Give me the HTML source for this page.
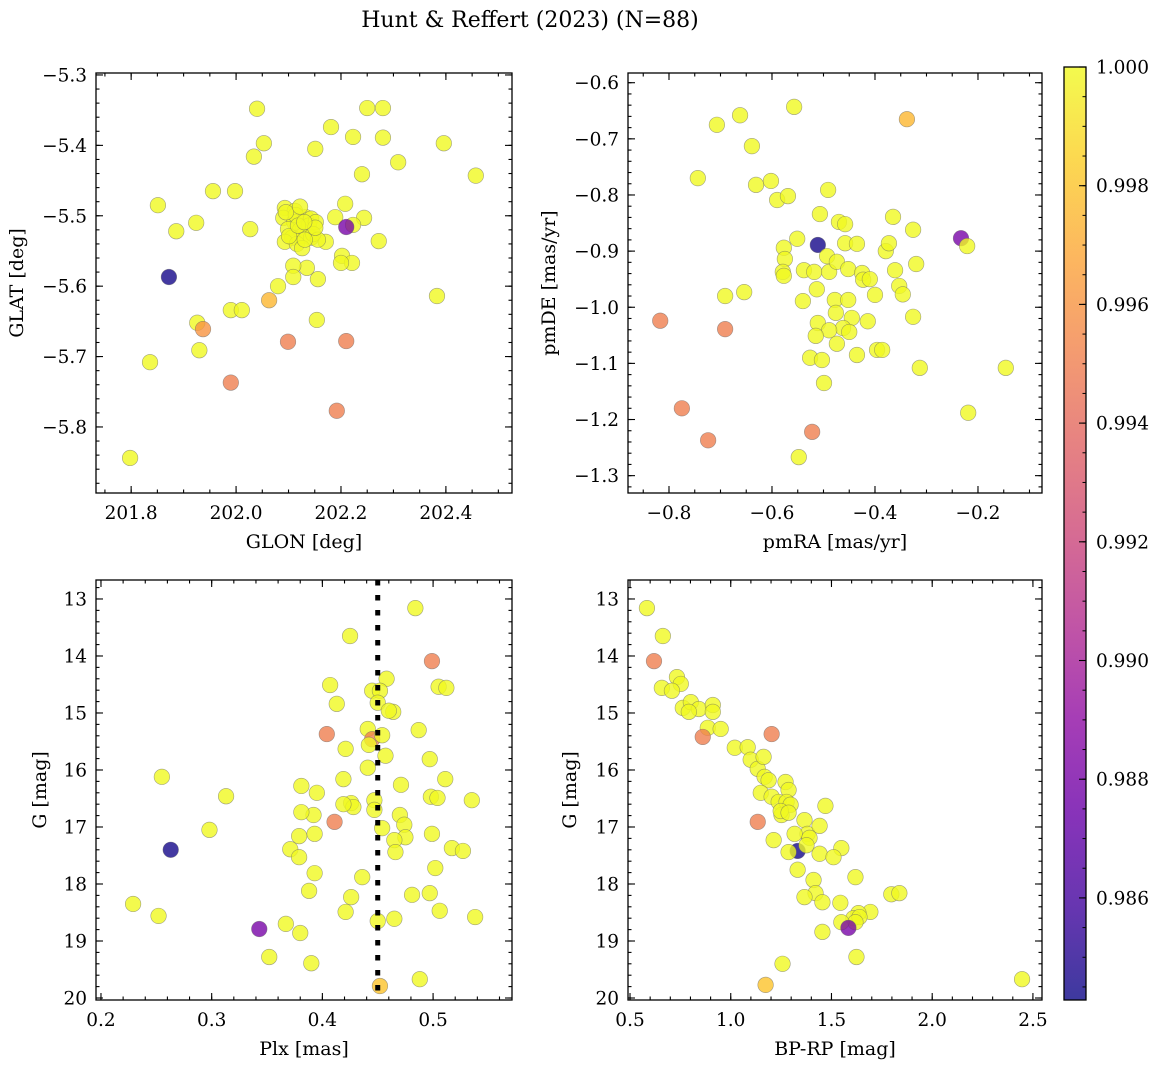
<!DOCTYPE html>
<html><head><meta charset="utf-8">
<style>
html,body{margin:0;padding:0;background:#fff;}
svg{display:block;font-family:"DejaVu Serif","Liberation Serif",serif;}
</style></head>
<body>
<svg id="fig" width="1161" height="1067" viewBox="0 0 1161 1067" xmlns="http://www.w3.org/2000/svg">
<text x="530" y="27" font-size="22" text-anchor="middle">Hunt &amp; Reffert (2023) (N=88)</text>
</svg>
<script>
// ---------- data ----------
const glon = [202.040,202.053,202.034,202.250,202.280,202.280,202.223,202.181,202.151,202.309,202.396,202.457,202.240,201.956,201.998,201.851,201.886,201.924,202.027,202.208,202.189,202.244,202.223,202.210,202.272,202.171,202.202,202.221,202.200,202.156,202.135,202.109,202.109,202.080,202.063,201.990,202.011,201.926,201.937,202.154,202.099,202.210,201.930,201.836,201.990,202.192,201.798,202.383,201.872,
202.093,202.112,202.133,202.090,202.143,202.111,202.099,202.122,202.139,202.152,202.126,202.107,202.143,202.093,202.116,202.126,202.147,202.156,202.114,202.101,202.131,202.118,202.151,202.130,202.095,202.122];
const glat = [-5.348,-5.397,-5.416,-5.347,-5.347,-5.389,-5.388,-5.374,-5.405,-5.424,-5.397,-5.443,-5.441,-5.465,-5.465,-5.485,-5.522,-5.510,-5.519,-5.483,-5.502,-5.503,-5.513,-5.516,-5.536,-5.537,-5.557,-5.567,-5.567,-5.590,-5.574,-5.571,-5.587,-5.600,-5.620,-5.634,-5.634,-5.652,-5.661,-5.648,-5.679,-5.678,-5.691,-5.708,-5.737,-5.777,-5.844,-5.614,-5.587,
-5.489,-5.493,-5.502,-5.503,-5.504,-5.509,-5.519,-5.520,-5.514,-5.509,-5.529,-5.531,-5.531,-5.537,-5.540,-5.546,-5.526,-5.534,-5.499,-5.529,-5.534,-5.514,-5.517,-5.509,-5.495,-5.487];
const prob1 = [1,1,1,1,1,1,1,1,1,1,1,1,1,1,1,1,1,1,1,1,1,1,1,0.988,1,1,1,1,1,1,1,1,1,1,0.9975,1,1,1,0.996,1,0.995,0.995,1,1,0.995,0.995,1,1,0.9845,
1,1,1,1,1,1,1,1,1,1,1,1,1,1,1,1,1,1,1,1,1,1,1,1,1,1];

const pmra = [-0.707,-0.662,-0.557,-0.338,-0.639,-0.744,-0.631,-0.602,-0.590,-0.569,-0.491,-0.654,-0.691,-0.817,-0.691,-0.775,-0.724,-0.522,-0.548,-0.507,-0.511,-0.577,-0.575,-0.579,-0.551,-0.538,-0.577,-0.518,-0.489,-0.493,-0.470,-0.458,-0.458,-0.435,-0.474,-0.452,-0.425,-0.423,-0.379,-0.373,-0.365,-0.326,-0.320,-0.361,-0.353,-0.346,-0.400,-0.410,-0.540,-0.513,-0.478,-0.452,-0.476,-0.445,-0.462,-0.511,-0.489,-0.474,-0.515,-0.450,-0.414,-0.396,-0.386,-0.435,-0.526,-0.503,-0.499,-0.326,-0.313,-0.146,-0.219,-0.233,-0.221];
const pmde = [-0.675,-0.658,-0.643,-0.665,-0.713,-0.770,-0.782,-0.775,-0.809,-0.802,-0.791,-0.973,-0.980,-1.024,-1.039,-1.180,-1.237,-1.222,-1.267,-0.834,-0.889,-0.894,-0.914,-0.937,-0.878,-0.934,-0.944,-0.937,-0.937,-0.909,-0.848,-0.852,-0.886,-0.887,-0.919,-0.932,-0.939,-0.951,-0.900,-0.886,-0.839,-0.862,-0.923,-0.934,-0.962,-0.977,-0.978,-0.950,-0.989,-0.968,-0.987,-0.987,-1.010,-1.019,-1.037,-1.028,-1.041,-1.065,-1.051,-1.044,-1.025,-1.076,-1.076,-1.085,-1.090,-1.094,-1.135,-1.017,-1.108,-1.108,-1.188,-0.877,-0.891];
const prob2 = [1,1,1,0.9975,1,1,1,1,1,1,1,1,1,0.995,0.995,0.995,0.995,0.995,1,1,0.9845,1,1,1,1,1,1,1,1,1,1,1,1,1,1,1,1,1,1,1,1,1,1,1,1,1,1,1,1,1,1,1,1,1,1,1,1,1,1,1,1,1,1,1,1,1,1,1,1,1,1,0.988,1];

const plx = [0.484,0.425,0.499,0.407,0.458,0.505,0.512,0.445,0.452,0.413,0.450,0.464,0.460,0.487,0.441,0.404,0.445,0.442,0.454,0.421,0.457,0.497,0.441,0.255,0.419,0.511,0.381,0.471,0.395,0.498,0.504,0.535,0.313,0.447,0.426,0.428,0.419,0.447,0.470,0.411,0.392,0.474,0.475,0.381,0.499,0.454,0.465,0.393,0.379,0.298,0.263,0.466,0.517,0.527,0.371,0.379,0.502,0.393,0.436,0.497,0.481,0.388,0.426,0.229,0.421,0.506,0.538,0.252,0.465,0.450,0.367,0.343,0.380,0.352,0.390,0.488,0.452];
const gmag3 = [13.16,13.65,14.09,14.51,14.40,14.54,14.56,14.61,14.61,14.84,14.82,14.98,14.96,15.30,15.28,15.37,15.46,15.56,15.39,15.63,15.75,15.81,15.96,16.12,16.16,16.16,16.28,16.26,16.40,16.47,16.49,16.53,16.46,16.53,16.58,16.65,16.60,16.70,16.79,16.91,16.79,16.96,17.18,16.74,17.12,17.02,17.23,17.12,17.16,17.05,17.40,17.44,17.37,17.42,17.39,17.53,17.72,17.81,17.88,18.16,18.19,18.12,18.23,18.35,18.49,18.47,18.58,18.56,18.61,18.65,18.70,18.79,18.86,19.28,19.39,19.67,19.79];
const prob3 = [1,1,0.995,1,1,1,1,1,1,1,1,1,1,1,1,0.995,0.995,1,1,1,1,1,1,1,1,1,1,1,1,1,1,1,1,1,1,1,1,1,1,0.995,1,1,1,1,1,1,1,1,1,1,0.9845,1,1,1,1,1,1,1,1,1,1,1,1,1,1,1,1,1,1,1,1,0.988,1,1,1,1,0.998];
const plxCut = [0.45];

const bprp = [0.584,0.663,0.619,0.733,0.752,0.658,0.708,0.762,0.802,0.842,0.792,0.911,0.911,0.886,0.950,0.861,1.020,1.084,1.203,1.099,1.134,1.163,1.168,1.188,1.149,1.203,1.272,1.287,1.238,1.277,1.297,1.252,1.248,1.287,1.470,1.134,1.366,1.381,1.317,1.441,1.391,1.213,1.332,1.376,1.287,1.549,1.441,1.510,1.332,1.619,1.411,1.421,1.455,1.366,1.797,1.837,1.544,1.693,1.634,1.609,1.639,1.619,1.549,1.584,1.455,1.624,1.257,1.173,2.446];
const gmag4 = [13.16,13.65,14.09,14.37,14.49,14.56,14.61,14.91,14.81,14.93,14.98,14.86,14.98,15.26,15.28,15.42,15.61,15.60,15.37,15.82,15.98,15.77,16.12,16.18,16.40,16.47,16.21,16.35,16.56,16.56,16.61,16.79,16.72,16.75,16.63,16.91,16.88,17.12,17.12,16.98,17.19,17.23,17.42,17.32,17.44,17.37,17.47,17.53,17.75,17.88,17.93,18.16,18.32,18.23,18.18,18.16,18.33,18.49,18.51,18.60,18.58,18.67,18.67,18.77,18.84,19.28,19.40,19.77,19.67];
const prob4 = [1,1,0.995,1,1,1,1,1,1,1,1,1,1,1,1,0.995,1,1,0.995,1,1,1,1,1,1,1,1,1,1,1,1,1,1,1,1,0.995,1,1,1,1,1,1,0.9845,1,1,1,1,1,1,1,1,1,1,1,1,1,1,1,1,1,1,1,1,0.988,1,1,1,0.998,1];

const cbTicks = [1.000,0.998,0.996,0.994,0.992,0.990,0.988,0.986];
const vmin = 0.98428, vmax = 1.0;

// ---------- helpers ----------
const NS = "http://www.w3.org/2000/svg";
const svg = document.getElementById('fig');
const TF = 18.5, LF = 19;
function mk(tag, attrs, parent){ const e=document.createElementNS(NS,tag); for(const k in attrs) e.setAttribute(k,attrs[k]); (parent||svg).appendChild(e); return e; }
const stops=[[0,'#0d0887'],[0.1,'#41049d'],[0.2,'#6a00a8'],[0.3,'#8f0da4'],[0.4,'#b12a90'],[0.5,'#cc4778'],[0.6,'#e16462'],[0.7,'#f2844b'],[0.8,'#fca636'],[0.9,'#fcce25'],[1,'#f0f921']];
function hx(h){return [1,3,5].map(i=>parseInt(h.substr(i,2),16));}
function plasma(t){ t=Math.max(0,Math.min(1,t)); for(let i=1;i<stops.length;i++){ if(t<=stops[i][0]){ const a=stops[i-1],b=stops[i]; const f=(t-a[0])/(b[0]-a[0]); const ca=hx(a[1]),cb=hx(b[1]); return 'rgb('+ca.map((v,j)=>Math.round(v+(cb[j]-v)*f)).join(',')+')'; } } return stops[stops.length-1][1]; }

function makeAxes(cfg){
  const {name,x0,x1,y0,y1,xmin,xmax,ymin,ymax,xMajor,xMinor,yMajor,yMinor,xdec,ydec,xlabel,ylabel,ylabelX} = cfg;
  const sx = v => x0 + (v-xmin)/(xmax-xmin)*(x1-x0);
  const sy = v => y1 - (v-ymin)/(ymax-ymin)*(y1-y0);
  const g = mk('g',{});
  
  
  const ticks = mk('g',{stroke:'#000','stroke-width':1.1},g);
  
  
  const lo=Math.min(xmin,xmax), hi=Math.max(xmin,xmax);
  function eachTick(a,b,step,fn){ const s=Math.ceil(a/step-1e-6); for(let k=s;k*step<=b+1e-9;k++) fn(+(k*step).toFixed(6)); }
  eachTick(lo,hi,xMinor,v=>{const X=sx(v); mk('line',{x1:X,x2:X,y1:y1,y2:y1-3.5},ticks); mk('line',{x1:X,x2:X,y1:y0,y2:y0+3.5},ticks);});
  const ylo=Math.min(ymin,ymax), yhi=Math.max(ymin,ymax);
  eachTick(ylo,yhi,yMinor,v=>{const Y=sy(v); mk('line',{x1:x0,x2:x0+3.5,y1:Y,y2:Y},ticks); mk('line',{x1:x1,x2:x1-3.5,y1:Y,y2:Y},ticks);});
  eachTick(lo,hi,xMajor,v=>{const X=sx(v); mk('line',{x1:X,x2:X,y1:y1,y2:y1-7},ticks); mk('line',{x1:X,x2:X,y1:y0,y2:y0+7},ticks);
    const t=mk('text',{x:X,y:y1+26,'font-size':TF,'text-anchor':'middle'},g); t.textContent=v.toFixed(xdec).replace('-','\u2212');
    
     });
  eachTick(ylo,yhi,yMajor,v=>{const Y=sy(v); mk('line',{x1:x0,x2:x0+7,y1:Y,y2:Y},ticks); mk('line',{x1:x1,x2:x1-7,y1:Y,y2:Y},ticks);
    const t=mk('text',{x:x0-9,y:Y+6.5,'font-size':TF,'text-anchor':'end'},g); t.textContent=v.toFixed(ydec).replace('-','\u2212');
    
     });
  const frame = mk('rect',{x:x0,y:y0,width:x1-x0,height:y1-y0,fill:'none',stroke:'#000','stroke-width':1.3},g);
  
  
  const xl = mk('text',{x:(x0+x1)/2,y:y1+55,'font-size':LF,'text-anchor':'middle'},g); xl.textContent=xlabel;
  
  
  const ym=(y0+y1)/2;
  const yl = mk('text',{x:ylabelX,y:ym,'font-size':LF,'text-anchor':'middle',transform:`rotate(-90 ${ylabelX} ${ym})`},g); yl.textContent=ylabel;
  
  
  return {sx,sy,g};
}
function scatter(ax, xs, ys, ps, name){
  const grp = mk('g',{},ax.g);
  
  
  for(let i=0;i<xs.length;i++){
    const c = mk('circle',{cx:ax.sx(xs[i]),cy:ax.sy(ys[i]),r:7.8,fill:plasma((ps[i]-vmin)/(vmax-vmin)),'fill-opacity':0.8,stroke:'#666','stroke-opacity':0.6,'stroke-width':0.6},grp);
    
    
  }
}

// ---------- panels ----------
const ax1 = makeAxes({name:'glon-glat-panel',x0:96,x1:512,y0:73,y1:493,xmin:201.733,xmax:202.526,ymin:-5.8938,ymax:-5.2972,xMajor:0.2,xMinor:0.05,yMajor:0.1,yMinor:0.02,xdec:1,ydec:1,xlabel:'GLON [deg]',ylabel:'GLAT [deg]',ylabelX:23});
scatter(ax1, glon, glat, prob1, 'glon-glat-scatter');

const ax2 = makeAxes({name:'proper-motion-panel',x0:628,x1:1042,y0:73,y1:493,xmin:-0.8796,xmax:-0.0757,ymin:-1.3309,ymax:-0.5827,xMajor:0.2,xMinor:0.05,yMajor:0.1,yMinor:0.02,xdec:1,ydec:1,xlabel:'pmRA [mas/yr]',ylabel:'pmDE [mas/yr]',ylabelX:555});
scatter(ax2, pmra, pmde, prob2, 'proper-motion-scatter');

const ax3 = makeAxes({name:'parallax-panel',x0:96,x1:512,y0:580,y1:1000,xmin:0.1955,xmax:0.5713,ymin:20.035,ymax:12.667,xMajor:0.1,xMinor:0.02,yMajor:1,yMinor:0.2,xdec:1,ydec:0,xlabel:'Plx [mas]',ylabel:'G [mag]',ylabelX:46});
scatter(ax3, plx, gmag3, prob3, 'parallax-scatter');
plxCut.forEach(v=>{ const l=mk('line',{x1:ax3.sx(v),x2:ax3.sx(v),y1:580,y2:1000,stroke:'#000','stroke-width':5,'stroke-dasharray':'5.5 9.5'},ax3.g);
  
   });

const ax4 = makeAxes({name:'cmd-panel',x0:628,x1:1042,y0:580,y1:1000,xmin:0.49,xmax:2.545,ymin:20.035,ymax:12.667,xMajor:0.5,xMinor:0.1,yMajor:1,yMinor:0.2,xdec:1,ydec:0,xlabel:'BP-RP [mag]',ylabel:'G [mag]',ylabelX:576});
scatter(ax4, bprp, gmag4, prob4, 'cmd-scatter');

// ---------- colorbar ----------
const cbx0=1064, cbx1=1086, cby0=67, cby1=1000;
const defs = mk('defs',{});
const grad = mk('linearGradient',{id:'cbg',x1:0,y1:1,x2:0,y2:0},defs);
stops.forEach(s=>mk('stop',{offset:s[0],'stop-color':s[1],'stop-opacity':0.8},grad));
const cb = mk('g',{});


mk('rect',{x:cbx0,y:cby0,width:cbx1-cbx0,height:cby1-cby0,fill:'url(#cbg)',stroke:'#000','stroke-width':1.3},cb);
const cy = v => cby1 - (v-vmin)/(vmax-vmin)*(cby1-cby0);
for(let v=0.9845; v<=1.00001; v+=0.0005){ const Y=cy(v); mk('line',{x1:cbx1,x2:cbx1-3.5,y1:Y,y2:Y,stroke:'#000','stroke-width':1},cb); }
cbTicks.forEach(v=>{ const Y=cy(v); mk('line',{x1:cbx1,x2:cbx1-7,y1:Y,y2:Y,stroke:'#000','stroke-width':1.1},cb);
  const t=mk('text',{x:1096,y:Y+6.5,'font-size':TF},cb); t.textContent=v.toFixed(3);
  
   });
</script>
</body></html>
